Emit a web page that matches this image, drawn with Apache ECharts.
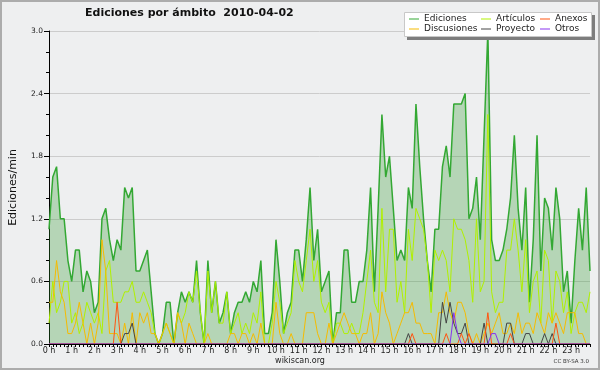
<!DOCTYPE html>
<html><head><meta charset="utf-8">
<script src="https://cdn.jsdelivr.net/npm/echarts@6/dist/echarts.min.js"></script>
<style>html,body{margin:0;padding:0;background:#eeeff0}#c{width:600px;height:370px}</style>
</head><body><div id="c"></div><script>
const hourLabels = ['0 h','1 h','2 h','3 h','4 h','5 h','6 h','7 h','8 h','9 h','10 h','11 h','12 h','13 h','14 h','15 h','16 h','17 h','18 h','19 h','20 h','21 h','22 h','23 h'];
const times = [];
for (let h = 0; h < 24; h++) for (let m = 0; m < 60; m += 10) times.push(String(h).padStart(2,'0') + ':' + String(m).padStart(2,'0'));
const yTicks = [0, 0.6, 1.2, 1.8, 2.4, 3.0];

const ediciones = [
 1.1,1.6,1.7,1.2,1.2,0.8,0.6,0.9,0.9,0.5,0.7,0.6,
 0.3,0.4,1.2,1.3,1.0,0.8,1.0,0.9,1.5,1.4,1.5,0.7,
 0.7,0.8,0.9,0.5,0.1,0.0,0.1,0.4,0.4,0.0,0.3,0.5,
 0.4,0.5,0.4,0.8,0.3,0.0,0.8,0.3,0.6,0.2,0.3,0.5,
 0.1,0.3,0.4,0.4,0.5,0.4,0.6,0.5,0.8,0.1,0.1,0.3,
 1.0,0.6,0.1,0.3,0.4,0.9,0.9,0.6,1.0,1.5,0.8,1.1,
 0.5,0.6,0.7,0.0,0.3,0.3,0.9,0.9,0.4,0.4,0.6,0.6,
 0.9,1.5,0.5,1.3,2.2,1.6,1.8,1.3,0.8,0.9,0.8,1.5,
 1.3,2.3,1.7,1.2,0.8,0.5,1.1,1.1,1.7,1.9,1.6,2.3,
 2.3,2.3,2.4,1.2,1.3,1.6,1.0,2.0,3.0,1.0,0.8,0.8,
 0.9,1.1,1.4,2.0,1.3,0.9,1.5,0.4,1.0,2.0,0.7,1.4,
 1.3,0.9,1.5,1.2,0.5,0.7,0.2,0.8,1.3,0.9,1.5,0.7
];
const articulos = [
 0.2,0.6,0.3,0.4,0.6,0.6,0.2,0.3,0.1,0.2,0.4,0.3,
 0.2,0.3,0.1,0.7,0.8,0.4,0.4,0.4,0.5,0.5,0.6,0.4,
 0.4,0.5,0.4,0.3,0.1,0.0,0.1,0.2,0.1,0.0,0.3,0.2,
 0.3,0.5,0.4,0.7,0.3,0.0,0.7,0.3,0.6,0.2,0.2,0.5,
 0.1,0.2,0.3,0.1,0.2,0.1,0.3,0.2,0.5,0.0,0.0,0.2,
 0.6,0.4,0.1,0.2,0.3,0.8,0.6,0.5,0.8,1.1,0.6,0.8,
 0.4,0.3,0.4,0.0,0.2,0.2,0.1,0.1,0.2,0.1,0.1,0.3,
 0.6,0.9,0.4,0.3,1.3,0.5,1.1,1.1,0.4,0.6,0.3,1.1,
 0.8,1.3,1.2,1.1,0.8,0.3,0.9,0.8,0.9,0.8,0.5,1.2,
 1.1,1.1,1.0,0.8,0.4,1.2,0.5,0.6,2.2,0.5,0.3,0.4,
 0.4,0.9,0.9,1.2,0.9,0.5,1.0,0.3,0.6,0.7,0.2,0.9,
 0.8,0.2,0.7,0.6,0.3,0.5,0.1,0.3,0.4,0.4,0.3,0.5
];
const discusiones = [
 0.4,0.4,0.8,0.5,0.4,0.1,0.1,0.2,0.4,0.2,0.0,0.2,
 0.0,0.2,1.0,0.7,0.1,0.1,0.1,0.0,0.2,0.0,0.3,0.0,
 0.3,0.2,0.3,0.1,0.1,0.0,0.1,0.2,0.1,0.0,0.3,0.2,
 0.0,0.2,0.1,0.0,0.0,0.0,0.1,0.0,0.0,0.0,0.0,0.0,
 0.1,0.1,0.0,0.1,0.1,0.0,0.1,0.0,0.2,0.0,0.0,0.0,
 0.4,0.1,0.0,0.0,0.1,0.0,0.0,0.0,0.3,0.3,0.3,0.1,
 0.0,0.0,0.2,0.0,0.1,0.2,0.3,0.2,0.1,0.1,0.0,0.1,
 0.1,0.3,0.0,0.1,0.5,0.3,0.2,0.0,0.1,0.2,0.3,0.3,
 0.4,0.2,0.2,0.1,0.1,0.1,0.0,0.3,0.3,0.5,0.3,0.2,
 0.4,0.4,0.3,0.1,0.0,0.1,0.0,0.1,0.2,0.1,0.2,0.3,
 0.1,0.1,0.2,0.1,0.3,0.1,0.2,0.2,0.1,0.3,0.2,0.1,
 0.3,0.2,0.3,0.2,0.1,0.3,0.3,0.3,0.1,0.1,0.0,0.0
];
const proyecto = [
 0,0,0,0,0,0,0,0,0,0,0,0,
 0,0,0,0,0,0,0,0,0.1,0.1,0.2,0,
 0,0,0,0,0,0,0,0,0,0,0,0,
 0,0,0,0,0,0,0,0,0,0,0,0,
 0,0,0,0,0,0,0,0,0,0,0,0,
 0,0,0,0,0,0,0,0,0,0,0,0,
 0,0,0,0,0,0,0,0,0,0,0,0,
 0,0,0,0,0,0,0,0,0,0,0,0.1,
 0,0,0,0,0,0,0,0,0.4,0.2,0.4,0.2,
 0.1,0.1,0.2,0,0,0,0,0.2,0,0,0,0,
 0,0.2,0.2,0,0,0,0.1,0.1,0,0,0,0.1,
 0,0.1,0,0,0,0,0,0,0,0,0,0
];
const anexos = [
 0,0,0,0,0,0,0,0,0,0,0,0,
 0,0,0,0,0,0,0.4,0,0,0,0,0,
 0,0,0,0,0,0,0,0,0,0,0,0,
 0,0,0,0,0,0,0,0,0,0,0,0,
 0,0,0,0,0,0,0,0,0,0,0,0,
 0,0,0,0,0,0,0,0,0,0,0,0,
 0,0,0,0,0,0,0,0,0,0,0,0,
 0,0,0,0,0,0,0,0,0,0,0,0,
 0.1,0,0,0,0,0,0,0,0,0.1,0,0,
 0,0.1,0,0.1,0,0,0,0,0.3,0,0,0,
 0,0,0.1,0,0,0,0,0,0,0,0,0,
 0,0,0.2,0,0,0,0,0,0,0,0,0
];
const otros = [
 0,0,0,0,0,0,0,0,0,0,0,0,
 0,0,0,0,0,0,0,0,0,0,0,0,
 0,0,0,0,0,0,0,0,0,0,0,0,
 0,0,0,0,0,0,0,0,0,0,0,0,
 0,0,0,0,0,0,0,0,0,0,0,0,
 0,0,0,0,0,0,0,0,0,0,0,0,
 0,0,0,0,0,0,0,0,0,0,0,0,
 0,0,0,0,0,0,0,0,0,0,0,0,
 0,0,0,0,0,0,0,0,0,0,0,0.3,
 0.1,0,0,0,0,0,0,0,0,0.1,0.1,0,
 0,0,0,0,0,0,0,0,0,0,0,0,
 0,0,0,0,0,0,0,0,0,0,0,0
];

const FONT = 'DejaVu Sans';
const colors = {Ediciones:'#33a833', 'Artículos':'#b0f000', Discusiones:'#f5bb00', Proyecto:'#444444', Anexos:'#ff5511', Otros:'#8833ee'};
function lineSeries(name, data, extra) {
  return Object.assign({
    name, type:'line', data, symbol:'none', showSymbol:false,
    lineStyle:{color:colors[name], width:1}, itemStyle:{color:colors[name]},
    emphasis:{disabled:true}, z:3
  }, extra || {});
}
function legendCol(left, names) {
  return {
    data: names, left, top: 14, orient:'vertical', padding:0, itemGap:0,
    itemWidth:10, itemHeight:1, icon:'rect', selectedMode:false, z:200,
    textStyle:{fontFamily:FONT, fontSize:9, color:'#222', lineHeight:10}
  };
}

const chart = echarts.init(document.getElementById('c'), null, {renderer:'canvas'});
chart.setOption({
  animation:false,
  backgroundColor:'#eeeff0',
  title:{text:'Ediciones por ámbito  2010-04-02', left:85, top:8, padding:0,
    textStyle:{fontFamily:FONT, fontWeight:'bold', fontSize:11, color:'#111'}},
  legend:[
    legendCol(409, ['Ediciones','Discusiones']),
    legendCol(481, ['Artículos','Proyecto']),
    legendCol(540, ['Anexos','Otros'])
  ],
  grid:{left:46, right:10, top:31, bottom:26},
  xAxis:{type:'category', data:times, boundaryGap:false, z:10,
    axisLine:{lineStyle:{color:'#000', width:1}},
    axisTick:{interval:0, length:3, lineStyle:{color:'#000'}},
    axisLabel:{interval:5, margin:3, fontFamily:FONT, fontSize:8, color:'#222',
      formatter:(v, idx) => idx % 6 === 0 ? hourLabels[idx/6] : ''},
    splitLine:{show:false}},
  yAxis:{type:'value', min:yTicks[0], max:yTicks[yTicks.length-1], interval:0.6,
    name:'Ediciones/min', nameLocation:'middle', nameGap:30,
    nameTextStyle:{fontFamily:FONT, fontSize:11, color:'#111'},
    axisLine:{show:true, lineStyle:{color:'#000'}},
    axisTick:{show:true, length:5, lineStyle:{color:'#000'}},
    minorTick:{show:true, splitNumber:3, length:3, lineStyle:{color:'#000'}},
    axisLabel:{margin:6, fontFamily:FONT, fontSize:7.5, color:'#222', formatter:v => v.toFixed(1)},
    splitLine:{lineStyle:{color:'#cccccc', width:1}}},
  series:[
    lineSeries('Ediciones', ediciones, {lineStyle:{color:colors.Ediciones, width:1.5},
      areaStyle:{color:'rgba(40,150,40,0.41)'}, z:2}),
    lineSeries('Artículos', articulos),
    lineSeries('Discusiones', discusiones),
    lineSeries('Proyecto', proyecto),
    lineSeries('Anexos', anexos),
    lineSeries('Otros', otros)
  ],
  graphic:[
    {type:'rect', z:100, shape:{x:407, y:15, width:188, height:25}, style:{fill:'#7d7d7d'}},
    {type:'rect', z:101, shape:{x:404.5, y:12.5, width:187, height:24}, style:{fill:'#ffffff', stroke:'#c8c8c8', lineWidth:1}},
    {type:'text', z:50, left:'center', top:357, style:{text:'wikiscan.org', font:'8px "DejaVu Sans"', fill:'#222'}},
    {type:'text', z:50, right:11, top:359, style:{text:'CC BY-SA 3.0', font:'5.5px "DejaVu Sans"', fill:'#333'}},
    {type:'rect', z:300, shape:{x:1, y:1, width:598, height:368}, style:{fill:'none', stroke:'#acacac', lineWidth:2}}
  ]
});
</script></body></html>
